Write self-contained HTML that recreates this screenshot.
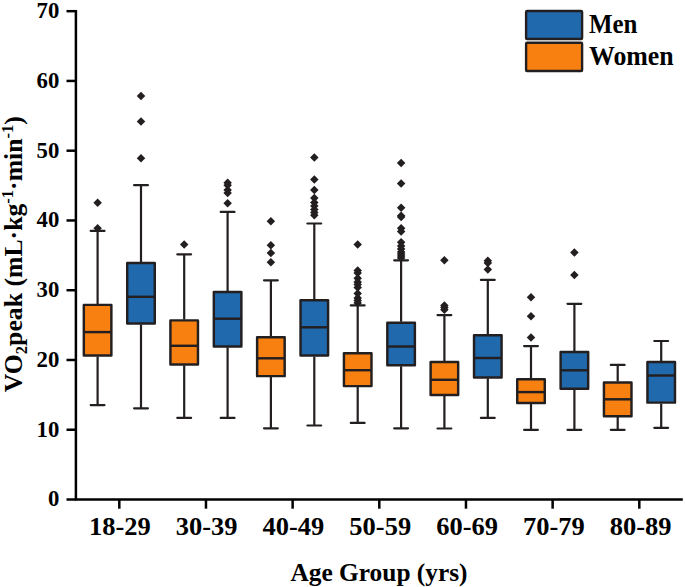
<!DOCTYPE html>
<html><head><meta charset="utf-8"><style>
html,body{margin:0;padding:0;background:#fff;}
svg{display:block;}
text{font-family:"Liberation Serif",serif;font-weight:bold;fill:#000;}
</style></head><body>
<svg width="685" height="587" viewBox="0 0 685 587">
<rect width="685" height="587" fill="#fff"/>
<path d="M97.6 230.9V304M97.6 356.4V405.1" stroke="#231F20" stroke-width="2.2" fill="none"/>
<path d="M90.7 230.9H104.5M90.7 405.1H104.5" stroke="#231F20" stroke-width="2.2" stroke-linecap="round" fill="none"/>
<path d="M97.6 198.45L101.85 202.7L97.6 206.95L93.35 202.7Z" fill="#231F20"/>
<path d="M97.6 224.05L101.85 228.3L97.6 232.55L93.35 228.3Z" fill="#231F20"/>
<rect x="83.82" y="304.88" width="27.55" height="50.65" fill="#F88011" stroke="#231F20" stroke-width="2.45" stroke-linejoin="round"/>
<path d="M83.82 332.1H111.37" stroke="#231F20" stroke-width="2.45" stroke-linejoin="round"/>
<path d="M141 185.2V262.2M141 324.4V408.3" stroke="#231F20" stroke-width="2.2" fill="none"/>
<path d="M134.1 185.2H147.9M134.1 408.3H147.9" stroke="#231F20" stroke-width="2.2" stroke-linecap="round" fill="none"/>
<path d="M141 91.85L145.25 96.1L141 100.35L136.75 96.1Z" fill="#231F20"/>
<path d="M141 117.15L145.25 121.4L141 125.65L136.75 121.4Z" fill="#231F20"/>
<path d="M141 153.95L145.25 158.2L141 162.45L136.75 158.2Z" fill="#231F20"/>
<rect x="127.22" y="263.07" width="27.55" height="60.45" fill="#2169AD" stroke="#231F20" stroke-width="2.45" stroke-linejoin="round"/>
<path d="M127.22 296.8H154.78" stroke="#231F20" stroke-width="2.45" stroke-linejoin="round"/>
<path d="M184.2 254.3V319.5M184.2 365.3V417.9" stroke="#231F20" stroke-width="2.2" fill="none"/>
<path d="M177.3 254.3H191.1M177.3 417.9H191.1" stroke="#231F20" stroke-width="2.2" stroke-linecap="round" fill="none"/>
<path d="M184.2 240.15L188.45 244.4L184.2 248.65L179.95 244.4Z" fill="#231F20"/>
<rect x="170.42" y="320.38" width="27.55" height="44.05" fill="#F88011" stroke="#231F20" stroke-width="2.45" stroke-linejoin="round"/>
<path d="M170.42 345.8H197.97" stroke="#231F20" stroke-width="2.45" stroke-linejoin="round"/>
<path d="M227.6 211.9V291.1M227.6 347.3V417.9" stroke="#231F20" stroke-width="2.2" fill="none"/>
<path d="M220.7 211.9H234.5M220.7 417.9H234.5" stroke="#231F20" stroke-width="2.2" stroke-linecap="round" fill="none"/>
<path d="M227.6 178.55L231.85 182.8L227.6 187.05L223.35 182.8Z" fill="#231F20"/>
<path d="M227.6 181.05L231.85 185.3L227.6 189.55L223.35 185.3Z" fill="#231F20"/>
<path d="M227.6 185.75L231.85 190L227.6 194.25L223.35 190Z" fill="#231F20"/>
<path d="M227.6 188.75L231.85 193L227.6 197.25L223.35 193Z" fill="#231F20"/>
<path d="M227.6 198.95L231.85 203.2L227.6 207.45L223.35 203.2Z" fill="#231F20"/>
<rect x="213.82" y="291.98" width="27.55" height="54.45" fill="#2169AD" stroke="#231F20" stroke-width="2.45" stroke-linejoin="round"/>
<path d="M213.82 318.7H241.38" stroke="#231F20" stroke-width="2.45" stroke-linejoin="round"/>
<path d="M270.9 280.3V336.3M270.9 377V428.3" stroke="#231F20" stroke-width="2.2" fill="none"/>
<path d="M264 280.3H277.8M264 428.3H277.8" stroke="#231F20" stroke-width="2.2" stroke-linecap="round" fill="none"/>
<path d="M270.9 217.05L275.15 221.3L270.9 225.55L266.65 221.3Z" fill="#231F20"/>
<path d="M270.9 241.05L275.15 245.3L270.9 249.55L266.65 245.3Z" fill="#231F20"/>
<path d="M270.9 248.75L275.15 253L270.9 257.25L266.65 253Z" fill="#231F20"/>
<path d="M270.9 257.95L275.15 262.2L270.9 266.45L266.65 262.2Z" fill="#231F20"/>
<rect x="257.12" y="337.18" width="27.55" height="38.95" fill="#F88011" stroke="#231F20" stroke-width="2.45" stroke-linejoin="round"/>
<path d="M257.12 358.3H284.68" stroke="#231F20" stroke-width="2.45" stroke-linejoin="round"/>
<path d="M314.3 223.5V299.4M314.3 356.4V425.5" stroke="#231F20" stroke-width="2.2" fill="none"/>
<path d="M307.4 223.5H321.2M307.4 425.5H321.2" stroke="#231F20" stroke-width="2.2" stroke-linecap="round" fill="none"/>
<path d="M314.3 153.25L318.55 157.5L314.3 161.75L310.05 157.5Z" fill="#231F20"/>
<path d="M314.3 175.25L318.55 179.5L314.3 183.75L310.05 179.5Z" fill="#231F20"/>
<path d="M314.3 185.75L318.55 190L314.3 194.25L310.05 190Z" fill="#231F20"/>
<path d="M314.3 193.75L318.55 198L314.3 202.25L310.05 198Z" fill="#231F20"/>
<path d="M314.3 198.15L318.55 202.4L314.3 206.65L310.05 202.4Z" fill="#231F20"/>
<path d="M314.3 201.75L318.55 206L314.3 210.25L310.05 206Z" fill="#231F20"/>
<path d="M314.3 205.25L318.55 209.5L314.3 213.75L310.05 209.5Z" fill="#231F20"/>
<path d="M314.3 208.25L318.55 212.5L314.3 216.75L310.05 212.5Z" fill="#231F20"/>
<path d="M314.3 211.05L318.55 215.3L314.3 219.55L310.05 215.3Z" fill="#231F20"/>
<rect x="300.53" y="300.27" width="27.55" height="55.25" fill="#2169AD" stroke="#231F20" stroke-width="2.45" stroke-linejoin="round"/>
<path d="M300.53 327.3H328.08" stroke="#231F20" stroke-width="2.45" stroke-linejoin="round"/>
<path d="M357.7 305.4V352.4M357.7 387V422.9" stroke="#231F20" stroke-width="2.2" fill="none"/>
<path d="M350.8 305.4H364.6M350.8 422.9H364.6" stroke="#231F20" stroke-width="2.2" stroke-linecap="round" fill="none"/>
<path d="M357.7 240.25L361.95 244.5L357.7 248.75L353.45 244.5Z" fill="#231F20"/>
<path d="M357.7 266.25L361.95 270.5L357.7 274.75L353.45 270.5Z" fill="#231F20"/>
<path d="M357.7 268.75L361.95 273L357.7 277.25L353.45 273Z" fill="#231F20"/>
<path d="M357.7 274.05L361.95 278.3L357.7 282.55L353.45 278.3Z" fill="#231F20"/>
<path d="M357.7 277.75L361.95 282L357.7 286.25L353.45 282Z" fill="#231F20"/>
<path d="M357.7 280.25L361.95 284.5L357.7 288.75L353.45 284.5Z" fill="#231F20"/>
<path d="M357.7 283.25L361.95 287.5L357.7 291.75L353.45 287.5Z" fill="#231F20"/>
<path d="M357.7 289.35L361.95 293.6L357.7 297.85L353.45 293.6Z" fill="#231F20"/>
<path d="M357.7 293.75L361.95 298L357.7 302.25L353.45 298Z" fill="#231F20"/>
<path d="M357.7 296.25L361.95 300.5L357.7 304.75L353.45 300.5Z" fill="#231F20"/>
<path d="M357.7 298.75L361.95 303L357.7 307.25L353.45 303Z" fill="#231F20"/>
<rect x="343.93" y="353.27" width="27.55" height="32.85" fill="#F88011" stroke="#231F20" stroke-width="2.45" stroke-linejoin="round"/>
<path d="M343.93 370.2H371.48" stroke="#231F20" stroke-width="2.45" stroke-linejoin="round"/>
<path d="M401.1 260.3V321.8M401.1 366.2V428.3" stroke="#231F20" stroke-width="2.2" fill="none"/>
<path d="M394.2 260.3H408M394.2 428.3H408" stroke="#231F20" stroke-width="2.2" stroke-linecap="round" fill="none"/>
<path d="M401.1 158.75L405.35 163L401.1 167.25L396.85 163Z" fill="#231F20"/>
<path d="M401.1 179.15L405.35 183.4L401.1 187.65L396.85 183.4Z" fill="#231F20"/>
<path d="M401.1 203.55L405.35 207.8L401.1 212.05L396.85 207.8Z" fill="#231F20"/>
<path d="M401.1 211.55L405.35 215.8L401.1 220.05L396.85 215.8Z" fill="#231F20"/>
<path d="M401.1 212.75L405.35 217L401.1 221.25L396.85 217Z" fill="#231F20"/>
<path d="M401.1 224.05L405.35 228.3L401.1 232.55L396.85 228.3Z" fill="#231F20"/>
<path d="M401.1 227.35L405.35 231.6L401.1 235.85L396.85 231.6Z" fill="#231F20"/>
<path d="M401.1 237.95L405.35 242.2L401.1 246.45L396.85 242.2Z" fill="#231F20"/>
<path d="M401.1 241.75L405.35 246L401.1 250.25L396.85 246Z" fill="#231F20"/>
<path d="M401.1 244.75L405.35 249L401.1 253.25L396.85 249Z" fill="#231F20"/>
<path d="M401.1 247.75L405.35 252L401.1 256.25L396.85 252Z" fill="#231F20"/>
<path d="M401.1 249.75L405.35 254L401.1 258.25L396.85 254Z" fill="#231F20"/>
<path d="M401.1 251.75L405.35 256L401.1 260.25L396.85 256Z" fill="#231F20"/>
<path d="M401.1 253.75L405.35 258L401.1 262.25L396.85 258Z" fill="#231F20"/>
<rect x="387.33" y="322.68" width="27.55" height="42.65" fill="#2169AD" stroke="#231F20" stroke-width="2.45" stroke-linejoin="round"/>
<path d="M387.33 346.5H414.88" stroke="#231F20" stroke-width="2.45" stroke-linejoin="round"/>
<path d="M444.4 315.1V361.1M444.4 395.9V428.5" stroke="#231F20" stroke-width="2.2" fill="none"/>
<path d="M437.5 315.1H451.3M437.5 428.5H451.3" stroke="#231F20" stroke-width="2.2" stroke-linecap="round" fill="none"/>
<path d="M444.4 255.95L448.65 260.2L444.4 264.45L440.15 260.2Z" fill="#231F20"/>
<path d="M444.4 301.15L448.65 305.4L444.4 309.65L440.15 305.4Z" fill="#231F20"/>
<path d="M444.4 303.35L448.65 307.6L444.4 311.85L440.15 307.6Z" fill="#231F20"/>
<path d="M444.4 305.55L448.65 309.8L444.4 314.05L440.15 309.8Z" fill="#231F20"/>
<rect x="430.62" y="361.98" width="27.55" height="33.05" fill="#F88011" stroke="#231F20" stroke-width="2.45" stroke-linejoin="round"/>
<path d="M430.62 379.8H458.18" stroke="#231F20" stroke-width="2.45" stroke-linejoin="round"/>
<path d="M487.8 279.9V334.3M487.8 378.3V417.9" stroke="#231F20" stroke-width="2.2" fill="none"/>
<path d="M480.9 279.9H494.7M480.9 417.9H494.7" stroke="#231F20" stroke-width="2.2" stroke-linecap="round" fill="none"/>
<path d="M487.8 256.45L492.05 260.7L487.8 264.95L483.55 260.7Z" fill="#231F20"/>
<path d="M487.8 258.75L492.05 263L487.8 267.25L483.55 263Z" fill="#231F20"/>
<path d="M487.8 265.15L492.05 269.4L487.8 273.65L483.55 269.4Z" fill="#231F20"/>
<rect x="474.03" y="335.18" width="27.55" height="42.25" fill="#2169AD" stroke="#231F20" stroke-width="2.45" stroke-linejoin="round"/>
<path d="M474.03 358H501.58" stroke="#231F20" stroke-width="2.45" stroke-linejoin="round"/>
<path d="M531 346.1V378.3M531 403.9V429.8" stroke="#231F20" stroke-width="2.2" fill="none"/>
<path d="M524.1 346.1H537.9M524.1 429.8H537.9" stroke="#231F20" stroke-width="2.2" stroke-linecap="round" fill="none"/>
<path d="M531 292.95L535.25 297.2L531 301.45L526.75 297.2Z" fill="#231F20"/>
<path d="M531 311.95L535.25 316.2L531 320.45L526.75 316.2Z" fill="#231F20"/>
<path d="M531 333.35L535.25 337.6L531 341.85L526.75 337.6Z" fill="#231F20"/>
<rect x="517.23" y="379.18" width="27.55" height="23.85" fill="#F88011" stroke="#231F20" stroke-width="2.45" stroke-linejoin="round"/>
<path d="M517.23 392.1H544.77" stroke="#231F20" stroke-width="2.45" stroke-linejoin="round"/>
<path d="M574.4 303.8V351.1M574.4 389.7V429.8" stroke="#231F20" stroke-width="2.2" fill="none"/>
<path d="M567.5 303.8H581.3M567.5 429.8H581.3" stroke="#231F20" stroke-width="2.2" stroke-linecap="round" fill="none"/>
<path d="M574.4 248.35L578.65 252.6L574.4 256.85L570.15 252.6Z" fill="#231F20"/>
<path d="M574.4 270.75L578.65 275L574.4 279.25L570.15 275Z" fill="#231F20"/>
<rect x="560.62" y="351.98" width="27.55" height="36.85" fill="#2169AD" stroke="#231F20" stroke-width="2.45" stroke-linejoin="round"/>
<path d="M560.62 370.3H588.17" stroke="#231F20" stroke-width="2.45" stroke-linejoin="round"/>
<path d="M617.7 364.9V381.6M617.7 417.1V429.8" stroke="#231F20" stroke-width="2.2" fill="none"/>
<path d="M610.8 364.9H624.6M610.8 429.8H624.6" stroke="#231F20" stroke-width="2.2" stroke-linecap="round" fill="none"/>
<rect x="603.93" y="382.48" width="27.55" height="33.75" fill="#F88011" stroke="#231F20" stroke-width="2.45" stroke-linejoin="round"/>
<path d="M603.93 399.3H631.48" stroke="#231F20" stroke-width="2.45" stroke-linejoin="round"/>
<path d="M661.2 341V361.1M661.2 403.5V427.8" stroke="#231F20" stroke-width="2.2" fill="none"/>
<path d="M654.3 341H668.1M654.3 427.8H668.1" stroke="#231F20" stroke-width="2.2" stroke-linecap="round" fill="none"/>
<rect x="647.43" y="361.98" width="27.55" height="40.65" fill="#2169AD" stroke="#231F20" stroke-width="2.45" stroke-linejoin="round"/>
<path d="M647.43 375.5H674.98" stroke="#231F20" stroke-width="2.45" stroke-linejoin="round"/>
<path d="M75.9 9.93V499.4H682.8" stroke="#000" stroke-width="2.5" fill="none"/>
<path d="M66.5 499.5H75.9" stroke="#000" stroke-width="2.5"/>
<path d="M66.5 429.74H75.9" stroke="#000" stroke-width="2.5"/>
<path d="M66.5 359.98H75.9" stroke="#000" stroke-width="2.5"/>
<path d="M66.5 290.22H75.9" stroke="#000" stroke-width="2.5"/>
<path d="M66.5 220.46H75.9" stroke="#000" stroke-width="2.5"/>
<path d="M66.5 150.7H75.9" stroke="#000" stroke-width="2.5"/>
<path d="M66.5 80.94H75.9" stroke="#000" stroke-width="2.5"/>
<path d="M66.5 11.18H75.9" stroke="#000" stroke-width="2.5"/>
<path d="M119.3 499.4V508.7" stroke="#000" stroke-width="2.5"/>
<path d="M205.97 499.4V508.7" stroke="#000" stroke-width="2.5"/>
<path d="M292.63 499.4V508.7" stroke="#000" stroke-width="2.5"/>
<path d="M379.3 499.4V508.7" stroke="#000" stroke-width="2.5"/>
<path d="M465.97 499.4V508.7" stroke="#000" stroke-width="2.5"/>
<path d="M552.63 499.4V508.7" stroke="#000" stroke-width="2.5"/>
<path d="M639.3 499.4V508.7" stroke="#000" stroke-width="2.5"/>
<g font-size="23.5">
<text transform="translate(59.3 506.4) scale(0.97 1)" text-anchor="end">0</text>
<text transform="translate(59.3 436.64) scale(0.97 1)" text-anchor="end">10</text>
<text transform="translate(59.3 366.88) scale(0.97 1)" text-anchor="end">20</text>
<text transform="translate(59.3 297.12) scale(0.97 1)" text-anchor="end">30</text>
<text transform="translate(59.3 227.36) scale(0.97 1)" text-anchor="end">40</text>
<text transform="translate(59.3 157.6) scale(0.97 1)" text-anchor="end">50</text>
<text transform="translate(59.3 87.84) scale(0.97 1)" text-anchor="end">60</text>
<text transform="translate(59.3 18.08) scale(0.97 1)" text-anchor="end">70</text>
</g>
<g font-size="25">
<text transform="translate(119.8 534.5) scale(1.06 1)" text-anchor="middle">18-29</text>
<text transform="translate(206.62 534.5) scale(1.06 1)" text-anchor="middle">30-39</text>
<text transform="translate(293.43 534.5) scale(1.06 1)" text-anchor="middle">40-49</text>
<text transform="translate(380.25 534.5) scale(1.06 1)" text-anchor="middle">50-59</text>
<text transform="translate(467.07 534.5) scale(1.06 1)" text-anchor="middle">60-69</text>
<text transform="translate(553.88 534.5) scale(1.06 1)" text-anchor="middle">70-79</text>
<text transform="translate(640.7 534.5) scale(1.06 1)" text-anchor="middle">80-89</text>
</g>
<text transform="translate(379 581) scale(1.015 1)" font-size="25" text-anchor="middle">Age Group (yrs)</text>
<text transform="translate(22.3 254.2) rotate(-90) scale(1.03 1)" font-size="25" text-anchor="middle">VO<tspan font-size="16" dy="5">2</tspan><tspan dy="-5">peak (mL·kg</tspan><tspan font-size="16" dy="-9">-1</tspan><tspan dy="9">·min</tspan><tspan font-size="16" dy="-9">-1</tspan><tspan dy="9">)</tspan></text>
<rect x="526.1" y="11" width="56" height="28" fill="#2169AD" stroke="#231F20" stroke-width="2.4" rx="1"/>
<rect x="526.1" y="42.8" width="56" height="28.2" fill="#F88011" stroke="#231F20" stroke-width="2.4" rx="1"/>
<text transform="translate(589 32.7) scale(0.94 1)" font-size="26.5">Men</text>
<text transform="translate(589 64.9) scale(0.975 1)" font-size="26.5">Women</text>
</svg>
</body></html>
